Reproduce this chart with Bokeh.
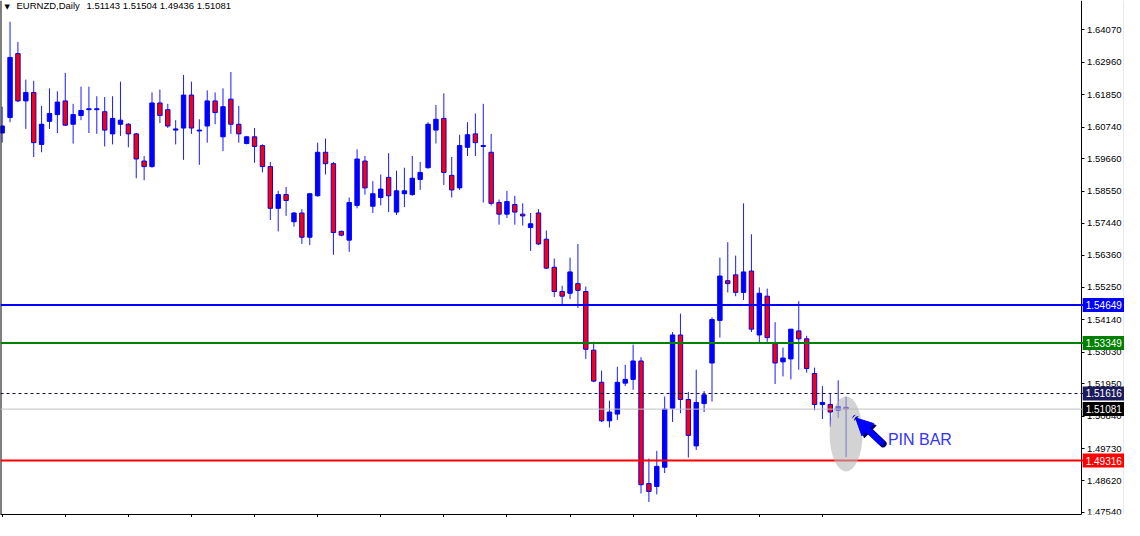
from bokeh.plotting import figure
from bokeh.models import (Range1d, FixedTicker, PrintfTickFormatter, Span, Label,
                          Arrow, NormalHead, ColumnDataSource)
from bokeh.embed import file_html
from bokeh.resources import INLINE

symbol = "EURNZD,Daily"

opens = [
    1.6054, 1.6107, 1.6326, 1.6164, 1.6193, 1.6015, 1.6094, 1.6117, 1.6164, 1.6084,
    1.6114, 1.6134, 1.6134, 1.6127, 1.6051, 1.6084, 1.6084, 1.6051, 1.5958, 1.5939,
    1.6157, 1.6134, 1.6064, 1.6071, 1.6184, 1.6061, 1.6078, 1.6164, 1.6041, 1.6170,
    1.6084, 1.6018, 1.6041, 1.6011, 1.5939, 1.5796, 1.5843, 1.5750, 1.5780, 1.5697,
    1.5839, 1.5988, 1.5949, 1.5717, 1.5687, 1.5806, 1.5958, 1.5803, 1.5833, 1.5902,
    1.5783, 1.5846, 1.5843, 1.5895, 1.5935, 1.6064, 1.6104, 1.5909, 1.5866, 1.6005,
    1.6051, 1.6008, 1.5988, 1.5816, 1.5776, 1.5809, 1.5776, 1.5730, 1.5780, 1.5690,
    1.5594, 1.5511, 1.5505, 1.5538, 1.5511, 1.5310, 1.5200, 1.5068, 1.5091, 1.5197,
    1.5210, 1.5273, 1.4853, 1.4843, 1.4909, 1.5111, 1.5362, 1.5141, 1.4982, 1.5127,
    1.5266, 1.5412, 1.5548, 1.5568, 1.5508, 1.5581, 1.5362, 1.5495, 1.5336, 1.5270,
    1.5280, 1.5376, 1.5349, 1.5230, 1.5124, 1.5124, 1.5104, 1.51143]

highs = [
    1.6144, 1.6435, 1.6366, 1.6237, 1.6233, 1.6147, 1.6207, 1.6197, 1.6260, 1.6154,
    1.6213, 1.6213, 1.6180, 1.6177, 1.6180, 1.6230, 1.6088, 1.6054, 1.5975, 1.6193,
    1.6203, 1.6154, 1.6098, 1.6253, 1.6230, 1.6101, 1.6200, 1.6193, 1.6207, 1.6263,
    1.6147, 1.6044, 1.6071, 1.6015, 1.5955, 1.5856, 1.5869, 1.5783, 1.5793, 1.5849,
    1.6021, 1.6035, 1.5955, 1.5720, 1.5833, 1.5998, 1.5975, 1.5889, 1.5912, 1.5985,
    1.5925, 1.5935, 1.5975, 1.5955, 1.6091, 1.6150, 1.6190, 1.5972, 1.6048, 1.6091,
    1.6121, 1.6154, 1.6051, 1.5826, 1.5856, 1.5839, 1.5813, 1.5780, 1.5793, 1.5720,
    1.5624, 1.5531, 1.5627, 1.5674, 1.5528, 1.5339, 1.5240, 1.5137, 1.5253, 1.5260,
    1.5329, 1.5286, 1.4939, 1.4965, 1.5151, 1.5372, 1.5435, 1.5167, 1.5243, 1.5170,
    1.5422, 1.5627, 1.5680, 1.5634, 1.5813, 1.5707, 1.5525, 1.5521, 1.5406, 1.5319,
    1.5362, 1.5478, 1.5359, 1.5250, 1.5187, 1.5160, 1.5207, 1.51504]

lows = [
    1.6021, 1.6091, 1.6160, 1.6068, 1.5972, 1.5988, 1.6068, 1.6054, 1.6078, 1.6018,
    1.6098, 1.6054, 1.6051, 1.6008, 1.6015, 1.6044, 1.6005, 1.5899, 1.5892, 1.5935,
    1.6088, 1.6071, 1.6015, 1.5962, 1.6051, 1.5945, 1.6021, 1.6084, 1.5992, 1.6051,
    1.6021, 1.6015, 1.5952, 1.5919, 1.5756, 1.5717, 1.5770, 1.5733, 1.5674, 1.5670,
    1.5836, 1.5912, 1.5637, 1.5700, 1.5647, 1.5796, 1.5843, 1.5780, 1.5806, 1.5783,
    1.5773, 1.5800, 1.5839, 1.5859, 1.5932, 1.6018, 1.5876, 1.5833, 1.5859, 1.5975,
    1.5975, 1.5816, 1.5806, 1.5740, 1.5763, 1.5740, 1.5737, 1.5650, 1.5670, 1.5588,
    1.5492, 1.5465, 1.5485, 1.5455, 1.5280, 1.5200, 1.5064, 1.5045, 1.5071, 1.5187,
    1.5174, 1.4819, 1.4790, 1.4816, 1.4889, 1.5064, 1.5094, 1.4942, 1.4968, 1.5098,
    1.5134, 1.5353, 1.5508, 1.5495, 1.5482, 1.5372, 1.5336, 1.5339, 1.5194, 1.5220,
    1.5210, 1.5243, 1.5233, 1.5104, 1.5074, 1.5048, 1.5078, 1.49436]

closes = [
    1.6078, 1.6313, 1.6164, 1.6193, 1.6021, 1.6084, 1.6121, 1.6160, 1.6081, 1.6117,
    1.6131, 1.6137, 1.6137, 1.6064, 1.6104, 1.6098, 1.6051, 1.5965, 1.5939, 1.6157,
    1.6114, 1.6078, 1.6068, 1.6184, 1.6071, 1.6064, 1.6164, 1.6124, 1.6144, 1.6084,
    1.6051, 1.6041, 1.6008, 1.5939, 1.5796, 1.5843, 1.5823, 1.5780, 1.5697, 1.5846,
    1.5988, 1.5949, 1.5713, 1.5704, 1.5816, 1.5965, 1.5866, 1.5846, 1.5862, 1.5839,
    1.5856, 1.5856, 1.5899, 1.5919, 1.6084, 1.6101, 1.5919, 1.5859, 1.6011, 1.6048,
    1.6021, 1.6011, 1.5813, 1.5776, 1.5819, 1.5783, 1.5770, 1.5743, 1.5674, 1.5591,
    1.5511, 1.5495, 1.5578, 1.5515, 1.5313, 1.5204, 1.5068, 1.5098, 1.5200, 1.5210,
    1.5273, 1.4849, 1.4826, 1.4912, 1.5108, 1.5362, 1.5141, 1.5018, 1.5131, 1.5157,
    1.5415, 1.5564, 1.5538, 1.5508, 1.5578, 1.5382, 1.5505, 1.5353, 1.5266, 1.5283,
    1.5382, 1.5349, 1.5247, 1.5124, 1.5131, 1.5098, 1.5117, 1.51081]

price_ticks = [1.64070, 1.62960, 1.61850, 1.60740, 1.59660, 1.58550, 1.57440,
               1.56360, 1.55250, 1.54140, 1.53030, 1.51950, 1.50840, 1.49730,
               1.48620, 1.47540]

level_values = [1.54649, 1.53349, 1.49316]
level_colors = ["#0000FF", "#008000", "#FF0000"]
dashed_level = 1.51616
last_price = 1.51081
tag_values = [1.54649, 1.53349, 1.51616, 1.51081, 1.49316]
tag_colors = ["#0000FF", "#008000", "#1C1C5C", "#000000", "#FF0000"]

annotation_text = "PIN BAR"

FW, FH = 1124, 514
n = len(opens)
idx = list(range(n))
X0, AXIS_X, X1 = -0.21, 136.8, 142.3

p = figure(frame_width=FW, frame_height=FH,
           x_range=Range1d(X0, X1), y_range=Range1d(1.4747, 1.6508),
           y_axis_location="right", output_backend="svg", toolbar_location=None,
           min_border_left=0, min_border_top=0, min_border_right=0,
           min_border_bottom=3, outline_line_color=None,
           background_fill_color="white", border_fill_color="white")
p.grid.visible = False

# price axis, placed at the right end of the candle area
ya = p.yaxis[0]
ya.fixed_location = AXIS_X
ya.ticker = FixedTicker(ticks=price_ticks)
ya.formatter = PrintfTickFormatter(format="%.5f")
ya.major_tick_out = 3
ya.major_tick_in = 0
ya.minor_tick_out = 0
ya.minor_tick_in = 0
ya.axis_line_color = "black"
ya.major_tick_line_color = "black"
ya.major_label_text_font = "Liberation Sans"
ya.major_label_text_font_size = "9.5px"
ya.major_label_text_color = "black"
ya.major_label_standoff = 3

# bottom time axis (tick marks only)
xticks = list(range(0, n, 8))
xa = p.xaxis[0]
xa.ticker = FixedTicker(ticks=xticks)
xa.major_label_overrides = {t: "" for t in xticks}
xa.major_label_standoff = 0
xa.major_tick_out = 3
xa.major_tick_in = 0
xa.minor_tick_out = 0
xa.minor_tick_in = 0
xa.axis_line_color = "black"
xa.major_tick_line_color = "black"
xa.bounds = (X0, AXIS_X)

p.add_layout(Span(location=X0, dimension="height", line_color="black", line_width=2))
p.add_layout(Span(location=X1, dimension="height", line_color="#D4D4D4", line_width=2))

# candles
tops = [max(o, c) for o, c in zip(opens, closes)]
bots = [min(o, c) for o, c in zip(opens, closes)]
cols = ["#0000FF" if c >= o else "#FF0000" for o, c in zip(opens, closes)]
src = ColumnDataSource(dict(x=idx, high=highs, low=lows, top=tops, bottom=bots, color=cols))
p.segment(x0="x", y0="high", x1="x", y1="low", source=src, line_color="#1A1AFF", line_width=1)
p.vbar(x="x", width=0.56, top="top", bottom="bottom", source=src,
       fill_color="color", line_color="#0000FF", line_width=1)

# horizontal levels (drawn over candles)
for v, c in zip(level_values, level_colors):
    p.add_layout(Span(location=v, dimension="width", line_color=c, line_width=2))
p.add_layout(Span(location=dashed_level, dimension="width", line_color="#101040",
                  line_width=1, line_dash="3 3"))
p.add_layout(Span(location=last_price, dimension="width", line_color="#C0C0C0", line_width=1))

# pin bar highlight
pin = n - 1
p.ellipse(x=[pin], y=[(highs[pin] + lows[pin]) / 2 - 0.0024], width=33, height=75,
          width_units="screen", height_units="screen",
          fill_color="#B6B6B6", fill_alpha=0.6, line_color=None, level="overlay")

p.add_layout(Arrow(end=NormalHead(size=17, fill_color="#000070", line_color="#000070"),
                   x_start=111.7, y_start=1.4989, x_end=108.5, y_end=1.5071,
                   line_color="#000070", line_width=7, line_cap="round", level="overlay"))
p.add_layout(Arrow(end=NormalHead(size=17, fill_color="#0000FF", line_color="#0000FF"),
                   x_start=111.4, y_start=1.4995, x_end=108.2, y_end=1.5078,
                   line_color="#0000FF", line_width=6, line_cap="round", level="overlay"))
p.add_layout(Label(x=112.3, y=1.5005, text=annotation_text, text_font="Liberation Sans",
                   text_font_size="16px", text_color="#3333FF", text_baseline="middle"))

# header text
p.add_layout(Label(x=4, y=FH - 6, x_units="screen", y_units="screen", text="\u25bc",
                   text_font="DejaVu Sans", text_font_size="7px", text_color="black",
                   text_baseline="middle"))
p.add_layout(Label(x=16, y=FH - 5, x_units="screen", y_units="screen", text=symbol,
                   text_font="Liberation Sans", text_font_size="9.5px", text_color="black",
                   text_baseline="middle"))
ohlc_text = " ".join(f"{v:.5f}" for v in (opens[-1], highs[-1], lows[-1], closes[-1]))
p.add_layout(Label(x=86, y=FH - 5, x_units="screen", y_units="screen", text=ohlc_text,
                   text_font="Liberation Sans", text_font_size="9.5px", text_color="black",
                   text_baseline="middle"))

# price tags on the axis
for v, c in zip(tag_values, tag_colors):
    p.add_layout(Label(x=AXIS_X + 0.2, y=v, text=f"{v:.5f}",
                       text_font="Liberation Sans", text_font_size="10px",
                       text_color="white", text_baseline="middle",
                       background_fill_color=c, padding=3))

open("out.html", "w").write(file_html(p, INLINE))
